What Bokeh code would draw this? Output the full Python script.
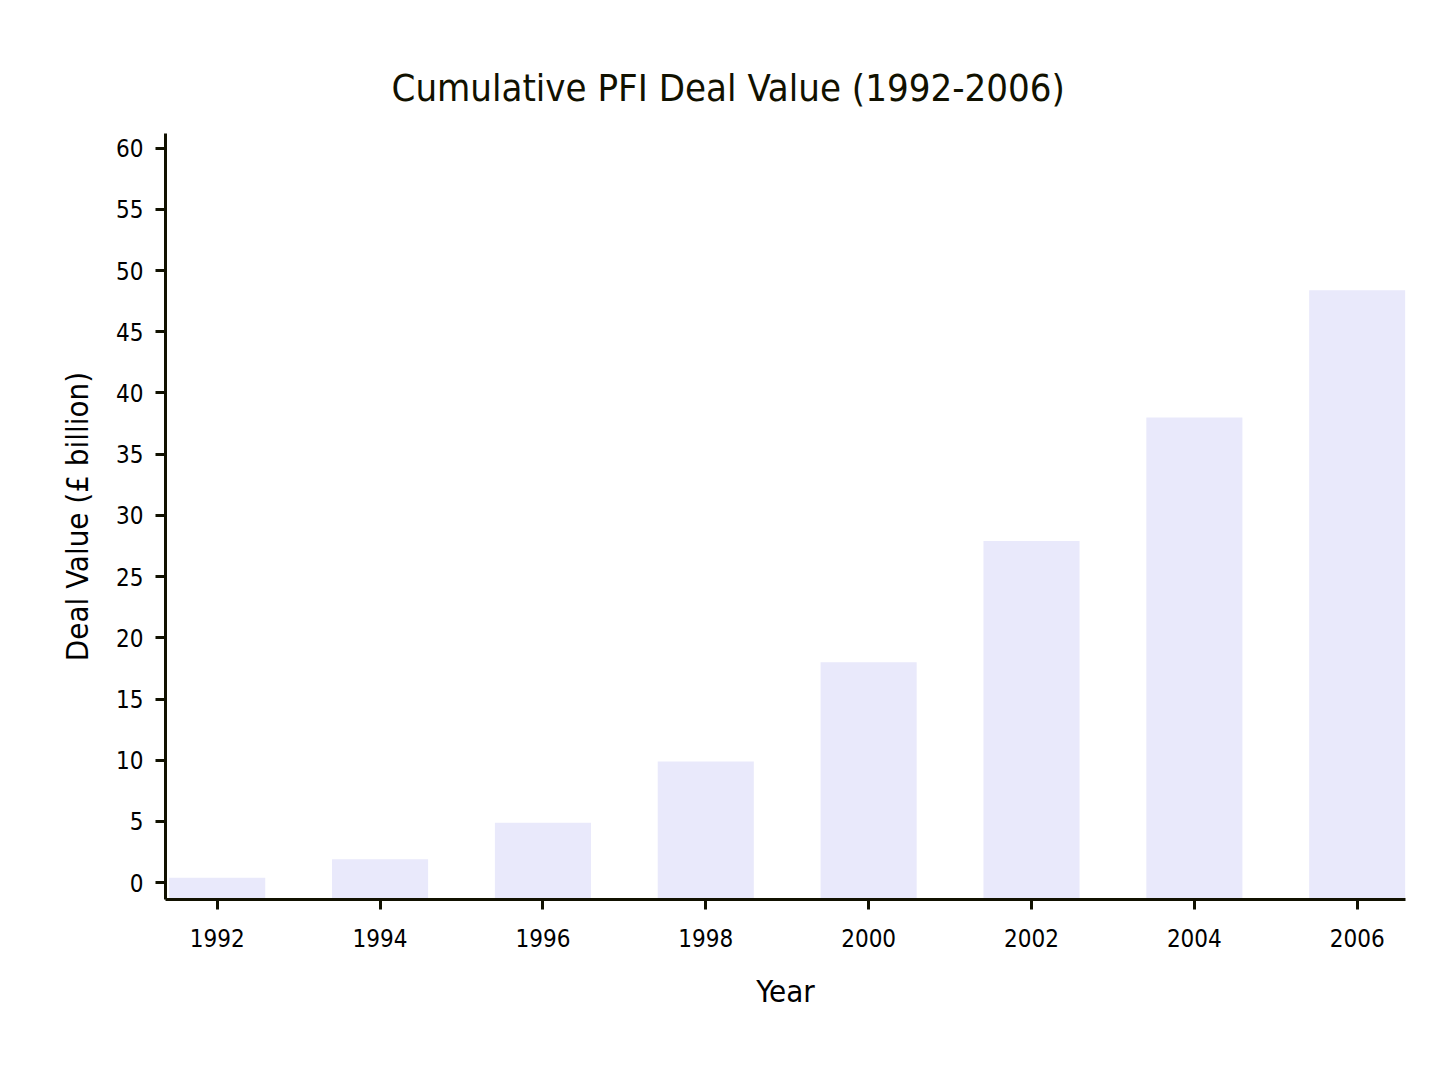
from bokeh.plotting import figure
from bokeh.models import ColumnDataSource, Range1d, FixedTicker
from bokeh.embed import file_html
from bokeh.resources import INLINE

years = [1992, 1994, 1996, 1998, 2000, 2002, 2004, 2006]
values = [0.4, 1.9, 4.9, 9.9, 18.0, 27.9, 38.0, 48.4]
y_ticks = list(range(0, 61, 5))

Y_START = -1.38
FONT = "DejaVu Sans Condensed"
INK = "#111100"

source = ColumnDataSource(data=dict(year=years, value=values, base=[Y_START] * len(years)))

p = figure(
    width=1440, height=1052,
    frame_width=1240, frame_height=766,
    min_border_left=165, min_border_top=133, min_border_right=35, min_border_bottom=153,
    x_range=Range1d(1991.365, 2006.593), y_range=Range1d(Y_START, 61.2),
    output_backend="svg", toolbar_location=None,
    title="Cumulative PFI Deal Value (1992-2006)",
)

p.vbar(x="year", top="value", bottom="base", width=1.18, source=source,
       fill_color="#E9E9FB", line_color=None)

p.title.align = "left"
p.title.offset = 226
p.title.text_font = FONT
p.title.text_font_size = "38px"
p.title.text_font_style = "normal"
p.title.text_color = INK
p.title.standoff = 48

p.xgrid.visible = False
p.ygrid.visible = False
p.outline_line_color = None
p.background_fill_color = "white"
p.border_fill_color = "white"

p.xaxis.ticker = FixedTicker(ticks=years)
p.yaxis.ticker = FixedTicker(ticks=y_ticks)
p.xaxis.minor_tick_line_color = None
p.yaxis.minor_tick_line_color = None

for ax in (p.xaxis, p.yaxis):
    ax.axis_line_width = 3
    ax.axis_line_color = INK
    ax.major_tick_line_width = 3
    ax.major_tick_line_color = INK
    ax.major_tick_out = 10
    ax.major_tick_in = 0
    ax.major_label_text_font = FONT
    ax.major_label_text_font_size = "24px"
    ax.major_label_text_color = "#000000"
    ax.axis_label_text_font = FONT
    ax.axis_label_text_font_size = "31px"
    ax.axis_label_text_font_style = "normal"
    ax.axis_label_text_color = "#000000"

p.xaxis.axis_label = "Year"
p.yaxis.axis_label = "Deal Value (£ billion)"
p.xaxis.major_label_standoff = 19
p.yaxis.major_label_standoff = 12
p.xaxis.axis_label_standoff = 23
p.yaxis.axis_label_standoff = 18

open("out.html", "w").write(file_html(p, INLINE))
